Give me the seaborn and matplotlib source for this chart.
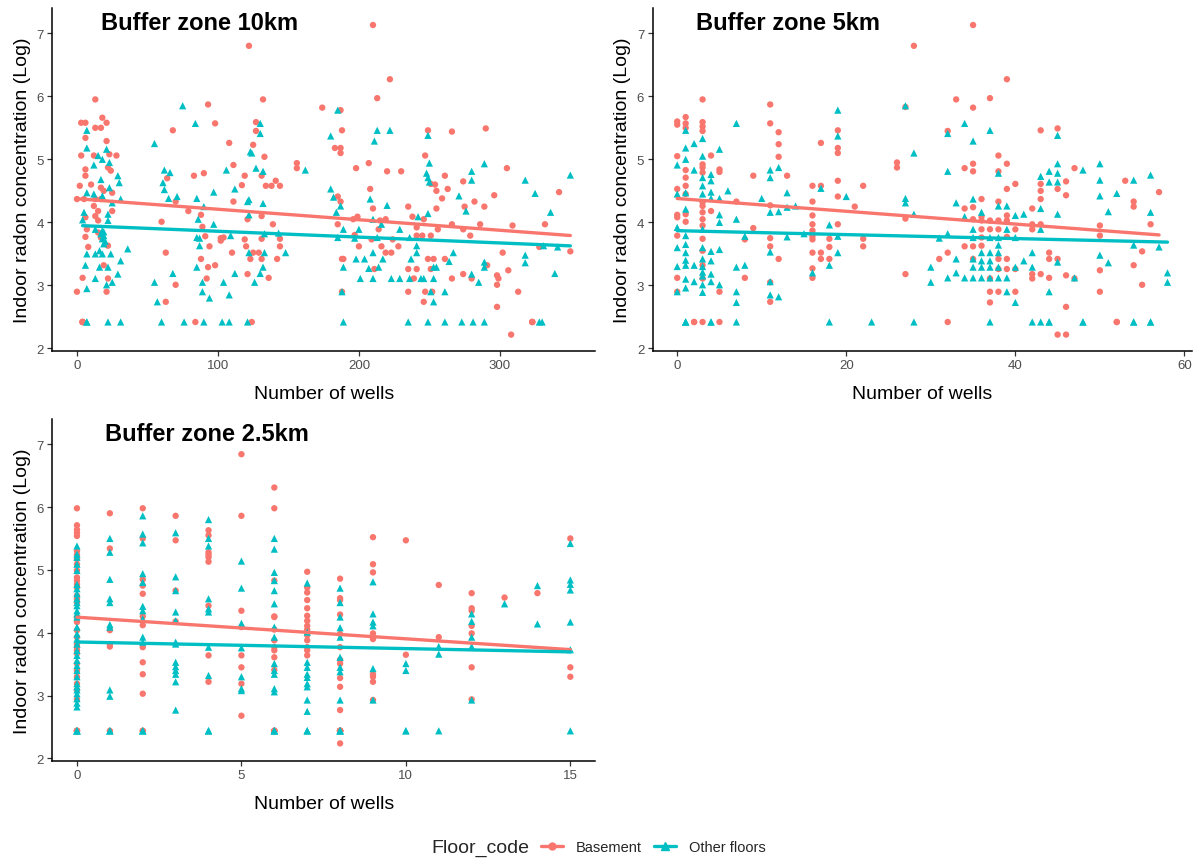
import numpy as np
import pandas as pd
import matplotlib
matplotlib.use("Agg")
import matplotlib.pyplot as plt
import seaborn as sns
from matplotlib.lines import Line2D

# ---------------- data (number of wells, log indoor radon) ----------------
# Buffer zone 10 km
bz10_basement = [
    (13, 5.95), (3, 5.58), (6, 5.58), (18, 5.66), (21, 5.58), (13, 5.5), (17, 5.5), (6, 5.34),
    (21, 5.29), (3, 5.06), (12, 5.06), (23, 5.08), (28, 5.06), (6, 4.84), (22, 4.87), (24, 4.82),
    (6, 4.74), (2, 4.58), (10, 4.6), (17, 4.55), (19, 4.5), (25, 4.47), (0, 4.37), (5, 4.37),
    (13, 4.37), (17, 4.37), (12, 4.26), (15, 4.18), (25, 4.18), (6, 4.08), (13, 4.1), (15, 4.03),
    (7, 3.89), (15, 3.84), (6, 3.77), (17, 3.76), (22, 3.63), (8, 3.61), (19, 3.32), (4, 3.12),
    (22, 3.11), (0, 2.9), (21, 2.9), (4, 2.42), (4, 2.42), (4, 2.42), (4, 2.42),
    (93, 5.87), (98, 5.57), (68, 5.46), (108, 5.26), (111, 4.91), (83, 4.74), (90, 4.78), (64, 4.7),
    (119, 4.74), (117, 4.59), (70, 4.33), (111, 4.33), (79, 4.18), (88, 4.12), (60, 4.01), (89, 3.93),
    (121, 4.05), (131, 4.1), (139, 3.97), (91, 3.78), (102, 3.75), (104, 3.76), (119, 3.73), (94, 3.62),
    (102, 3.71), (144, 3.74), (144, 3.62), (131, 3.74), (120, 3.62), (63, 3.52), (125, 3.52), (129, 3.52),
    (110, 3.52), (88, 3.42), (123, 3.42), (131, 3.42), (142, 3.42), (98, 3.32), (93, 3.29), (70, 3.01),
    (121, 3.18), (136, 3.12), (92, 3.11), (63, 2.74), (84, 2.42), (124, 2.42), (122, 6.8), (156, 4.94),
    (156, 4.86), (132, 5.95), (127, 5.59), (127, 5.45), (125, 5.23), (133, 5.04), (131, 4.74),
    (134, 4.58), (138, 4.58), (141, 4.66), (144, 4.58),
    (210, 7.13), (222, 6.27), (213, 5.97), (174, 5.82), (187, 5.78), (188, 5.46), (183, 5.18), (187, 5.18),
    (187, 5.1), (249, 5.46), (266, 5.44), (290, 5.49), (247, 5.06), (198, 4.86), (207, 4.94), (220, 4.81),
    (230, 4.81), (251, 4.61), (254, 4.6), (255, 4.5), (261, 4.74), (274, 4.65), (305, 4.86), (263, 4.53),
    (259, 4.38), (296, 4.43), (342, 4.48), (185, 4.41), (187, 4.33), (208, 4.53), (210, 4.22), (235, 4.25),
    (282, 4.33), (289, 4.25), (275, 4.25), (238, 4.09), (246, 4.05), (255, 4.22), (185, 3.97), (196, 4.05),
    (199, 4.09), (215, 4.03), (219, 4.05), (214, 3.89), (241, 3.92), (256, 3.89), (266, 3.97), (274, 3.89),
    (286, 3.97), (309, 3.95), (332, 3.97), (197, 3.8), (241, 3.79), (245, 3.79), (251, 3.79), (279, 3.79),
    (224, 3.73), (209, 3.73), (216, 3.62), (200, 3.62), (228, 3.62), (328, 3.61), (350, 3.54), (219, 3.52),
    (223, 3.52), (302, 3.52), (188, 3.42), (189, 3.42), (249, 3.42), (253, 3.42), (261, 3.42), (291, 3.32),
    (211, 3.26), (235, 3.26), (241, 3.26), (251, 3.26), (306, 3.24), (274, 3.18), (298, 3.16), (299, 3.11),
    (239, 3.11), (266, 3.11), (280, 3.11), (298, 3.01), (188, 2.9), (235, 2.9), (247, 2.9), (252, 2.9),
    (313, 2.9), (246, 2.74), (298, 2.66), (323, 2.42), (323, 2.42), (323, 2.42), (308, 2.22),
]
bz10_other = [
    (7, 5.46), (7, 5.18), (21, 5.16), (15, 5.06), (18, 5.0), (12, 4.91), (23, 4.95), (29, 4.74),
    (17, 4.68), (30, 4.63), (23, 4.55), (7, 4.47), (12, 4.45), (18, 4.42), (31, 4.37), (25, 4.31),
    (5, 4.16), (22, 4.13), (4, 4.04), (22, 4.03), (13, 3.89), (18, 3.87), (19, 3.79), (18, 3.74),
    (36, 3.58), (7, 3.5), (13, 3.5), (18, 3.5), (24, 3.5), (31, 3.39), (6, 3.32), (16, 3.29),
    (22, 3.29), (29, 3.18), (13, 3.11), (25, 3.05), (21, 3.01), (7, 2.95), (7, 2.42), (7, 2.42),
    (22, 2.42), (31, 2.42), (17, 3.82), (19, 3.85), (20, 3.7), (16, 3.55), (19, 3.66),
    (55, 5.25), (75, 5.85), (84, 5.57), (62, 4.83), (66, 4.79), (106, 4.83), (61, 4.63), (62, 4.52),
    (97, 4.48), (112, 4.53), (65, 4.38), (71, 4.41), (85, 4.38), (121, 4.33), (122, 4.36), (90, 4.25),
    (86, 4.05), (97, 3.97), (122, 4.12), (85, 3.76), (87, 3.75), (109, 3.79), (87, 3.63), (133, 3.82),
    (143, 3.83), (122, 3.52), (133, 3.52), (148, 3.52), (85, 3.29), (132, 3.29), (68, 3.19), (112, 3.19),
    (130, 3.19), (89, 3.05), (55, 3.05), (104, 3.05), (126, 3.05), (89, 2.9), (108, 2.85), (94, 2.8),
    (57, 2.74), (60, 2.42), (76, 2.42), (90, 2.42), (103, 2.42), (108, 2.42), (121, 2.42),
    (130, 5.57), (130, 5.41), (124, 5.1), (123, 5.12), (127, 4.86), (132, 4.81), (132, 4.3), (162, 4.83),
    (185, 5.78), (180, 5.37), (213, 5.46), (222, 5.46), (211, 5.29), (249, 5.38), (250, 4.94), (248, 4.78),
    (249, 4.71), (250, 4.64), (280, 4.81), (280, 4.67), (289, 4.93), (318, 4.67), (350, 4.75), (271, 4.42),
    (325, 4.46), (180, 4.53), (182, 4.4), (187, 4.26), (208, 4.37), (220, 4.27), (184, 4.16), (276, 4.18),
    (336, 4.16), (242, 4.09), (249, 4.14), (210, 4.05), (200, 3.89), (216, 3.97), (229, 3.89), (189, 3.89),
    (185, 3.76), (197, 3.75), (213, 3.76), (236, 3.76), (241, 3.63), (331, 3.63), (341, 3.61), (241, 3.52),
    (210, 3.52), (267, 3.52), (318, 3.48), (237, 3.42), (217, 3.42), (198, 3.42), (204, 3.42), (264, 3.38),
    (289, 3.37), (318, 3.36), (189, 3.29), (207, 3.27), (214, 3.29), (253, 3.29), (255, 3.29), (289, 3.29),
    (339, 3.19), (280, 3.18), (201, 3.11), (210, 3.11), (223, 3.11), (229, 3.11), (236, 3.11), (244, 3.11),
    (246, 3.11), (253, 3.11), (285, 3.05), (188, 2.9), (251, 2.9), (261, 2.9), (253, 2.74), (189, 2.42),
    (235, 2.42), (249, 2.42), (261, 2.42), (273, 2.42), (281, 2.42), (289, 2.42), (328, 2.42), (330, 2.42),
]

# Buffer zone 5 km  {number of wells: [log radon values]}
bz5_basement = {
    0: [5.6, 5.55, 5.05, 4.53, 4.12, 4.08, 3.79, 3.12, 2.9],
    1: [5.67, 5.57, 5.5, 4.83, 4.71, 4.58, 4.45, 4.13, 4.01],
    2: [2.42, 2.42],
    3: [5.95, 5.59, 5.52, 5.45, 4.92, 4.87, 4.79, 4.32, 4.26, 4.16, 4.05, 3.95, 3.74, 3.55, 3.32, 3.11, 2.42],
    4: [5.06, 4.18], 5: [4.84, 4.8, 2.9, 2.42], 7: [4.33], 8: [3.73, 3.12], 9: [4.74, 3.91],
    11: [5.87, 5.57, 4.27, 3.75, 3.62, 3.05, 2.74], 12: [5.43, 5.24, 5.04, 3.42], 13: [4.74],
    16: [4.58, 4.33, 4.11, 3.97, 3.87, 3.78, 3.73, 3.52, 3.27, 3.12], 17: [5.26, 4.58, 3.52, 3.42],
    18: [3.74, 3.61, 3.42], 19: [5.46, 5.18, 5.1, 4.66, 4.41, 3.97], 21: [4.25], 22: [4.58, 3.74, 3.62],
    26: [4.95, 4.87], 27: [5.83, 4.06, 3.18], 28: [6.8], 31: [3.42], 32: [5.45, 3.52, 2.42], 33: [5.95],
    34: [4.86, 4.22, 3.62], 35: [7.13, 5.82, 4.93, 4.81, 4.24, 4.05, 3.62, 3.42],
    36: [4.37, 4.09, 4.03, 3.89, 3.76, 3.63], 37: [5.97, 4.03, 3.89, 3.11, 2.9, 2.73],
    38: [5.06, 4.81, 4.33, 4.03, 3.89, 3.42, 3.26, 2.9], 39: [6.27, 4.93, 4.53, 4.11, 4.03, 3.77, 3.42, 3.26],
    40: [4.61, 3.89, 3.26, 2.9], 42: [4.22, 3.97, 3.89, 3.18, 3.11], 43: [5.46, 4.61, 4.5, 4.37, 3.97, 3.18],
    44: [3.52, 3.42, 3.12], 45: [5.49, 4.53, 3.42, 2.22], 46: [4.65, 4.43, 3.16, 2.66, 2.22], 47: [4.86, 3.11],
    50: [3.95, 3.79, 3.24, 2.9], 52: [2.42, 2.42], 53: [4.66], 54: [4.33, 4.25, 3.32], 55: [3.54, 3.01],
    56: [3.97], 57: [4.48],
}
bz5_other = {
    0: [4.91, 4.45, 3.92, 2.9, 3.6, 3.3],
    1: [5.46, 5.18, 5.0, 4.47, 4.21, 3.79, 3.52, 3.32, 2.96, 2.42, 2.42, 2.42, 3.65, 3.4, 3.1],
    2: [5.25, 4.83, 3.32, 3.06],
    3: [5.33, 5.05, 4.71, 4.58, 4.45, 3.89, 3.42, 3.21, 3.01, 2.89, 3.6, 3.3, 3.15],
    4: [4.76, 4.66, 4.48, 4.38, 3.54, 3.39, 3.18, 3.06, 2.42, 2.42], 5: [5.16, 4.38, 4.12, 4.0, 3.57, 3.01],
    6: [4.5], 7: [5.57, 4.05, 3.29, 2.9, 2.73, 2.42], 8: [3.78, 3.32], 10: [4.38],
    11: [4.83, 4.71, 4.16, 3.53, 3.06, 2.85], 12: [4.87, 4.17, 2.82], 13: [4.47, 4.24, 3.77], 14: [4.26],
    15: [3.82], 16: [3.2], 17: [4.54], 18: [3.96, 3.32, 2.42], 19: [5.78, 5.37, 3.78, 3.52], 20: [4.41],
    23: [2.42], 27: [5.85, 4.38, 4.31], 28: [5.1, 4.13, 2.42], 30: [3.29, 3.05], 31: [3.75],
    32: [5.41, 4.81, 3.12, 3.82], 33: [4.31, 3.42, 3.2], 34: [5.57, 4.09, 3.12],
    35: [5.29, 4.37, 3.89, 3.76, 3.29, 3.12, 3.42], 36: [4.16, 3.52, 3.39, 3.12, 3.29],
    37: [5.46, 3.76, 3.52, 3.39, 3.29, 2.42, 3.12], 38: [4.78, 4.26, 3.76, 3.64, 3.52, 3.12, 3.29],
    39: [4.26, 3.89, 3.12, 2.9],
    40: [4.11, 3.76, 3.29, 2.73], 41: [4.13, 3.39], 42: [3.52, 3.29, 2.42], 43: [4.73, 4.22, 3.89, 2.42],
    44: [4.81, 4.64, 2.9, 2.42, 2.42], 45: [5.38, 4.93, 4.78, 4.64, 4.13, 3.37], 47: [3.12],
    48: [4.83, 2.42, 2.42], 50: [4.93, 4.67, 4.42, 3.48], 51: [4.17, 3.36], 52: [4.46],
    54: [4.67, 3.64, 2.42, 2.42], 56: [4.75, 4.16, 2.42, 2.42], 57: [3.61], 58: [3.2, 3.05],
}

# Buffer zone 2.5 km
bz25_basement = {
    0: [5.98, 5.71, 5.64, 5.59, 5.54, 5.3, 5.24, 5.17, 5.09, 4.99, 4.88, 4.83, 4.77, 4.72, 4.59, 4.54,
        4.48, 4.25, 4.17, 4.04, 3.93, 3.82, 3.77, 3.72, 3.67, 3.51, 3.4, 3.3, 3.19, 3.09, 2.94,
        2.44, 2.44, 2.44, 2.44],
    1: [5.9, 5.34, 4.04, 3.82, 3.78, 2.44],
    2: [5.98, 5.5, 4.85, 4.75, 4.62, 4.26, 4.12, 3.77, 3.53, 3.34, 3.03, 2.44, 2.44],
    3: [5.86, 5.47, 4.67, 4.18],
    4: [5.63, 5.55, 5.28, 5.24, 5.2, 5.13, 4.43, 3.64, 3.22],
    5: [6.84, 5.86, 4.35, 4.09, 3.64, 3.45, 3.19, 2.68],
    6: [6.31, 5.98, 4.83, 4.26, 4.25, 4.05, 3.88, 3.77, 3.72, 3.61, 3.41, 2.44, 2.44, 2.44, 2.44],
    7: [4.97, 4.72, 4.64, 4.52, 4.39, 4.27, 4.19, 4.11, 4.05, 3.96, 3.88, 3.77, 3.72, 3.64],
    8: [4.86, 4.55, 4.52, 4.29, 3.98, 3.77, 3.57, 3.51, 3.28, 3.14, 2.77, 2.44, 2.44, 2.44, 2.44,
        2.44, 2.44, 2.44, 2.44, 2.24],
    9: [5.52, 5.09, 4.96, 3.99, 3.9, 3.34, 3.3, 3.22, 2.93],
    10: [5.47, 3.65], 11: [4.76, 3.93], 12: [4.63, 4.39, 4.35, 4.11, 3.99, 3.45, 2.94],
    13: [4.56], 14: [4.63], 15: [5.5, 3.45, 3.3],
}
bz25_other = {
    0: [5.38, 5.25, 5.2, 5.09, 4.99, 4.77, 4.7, 4.62, 4.54, 4.48, 4.43, 4.35, 4.3, 4.25, 4.09, 3.98,
        3.9, 3.82, 3.72, 3.64, 3.56, 3.48, 3.4, 3.3, 3.19, 3.14, 3.09, 3.03, 2.95, 2.88, 2.82,
        2.44, 2.44, 2.44, 2.44],
    1: [5.5, 5.28, 4.85, 4.54, 4.48, 4.13, 4.09, 3.09, 2.99, 2.44, 2.44, 2.44],
    2: [5.86, 5.57, 5.43, 4.94, 4.8, 4.42, 4.35, 4.22, 3.93, 3.85, 2.44, 2.44, 2.44],
    3: [5.59, 4.89, 4.67, 4.33, 4.19, 3.85, 3.82, 3.53, 3.46, 3.4, 3.34, 3.22, 2.77],
    4: [5.8, 5.5, 5.38, 4.54, 4.38, 4.33, 3.77, 3.32, 2.44, 2.44, 2.44],
    5: [5.14, 4.71, 4.15, 3.76, 3.3, 3.11, 3.08],
    6: [5.5, 5.33, 4.96, 4.83, 4.67, 4.46, 4.09, 3.93, 3.51, 3.4, 3.34, 3.11, 3.06,
        2.44, 2.44, 2.44, 2.44],
    7: [4.79, 4.01, 3.53, 3.45, 3.34, 3.29, 3.19, 3.14, 2.93, 2.75, 2.44, 2.44, 2.44],
    8: [4.71, 4.48, 4.25, 4.08, 3.93, 3.61, 3.45, 3.38, 2.93, 2.44, 2.44, 2.44, 2.44],
    9: [4.81, 4.3, 4.17, 4.11, 3.43, 2.93],
    10: [3.51, 3.4, 2.44, 2.44], 11: [3.78, 3.66, 2.44], 12: [4.3, 4.18, 3.93, 3.78, 2.93],
    13: [4.46], 14: [4.75, 4.14], 15: [5.42, 4.84, 4.77, 4.68, 4.17, 3.73, 2.44],
}

panel_titles = ["Buffer zone 10km", "Buffer zone 5km", "Buffer zone 2.5km"]
floor_levels = ["Basement", "Other floors"]
x_ticks = [[0, 100, 200, 300], [0, 20, 40, 60], [0, 5, 10, 15]]
y_ticks = [2, 3, 4, 5, 6, 7]


def flatten(cols):
    return [(w, v) for w, vals in cols.items() for v in vals]


def frame(basement, other):
    rows = [(x, y, floor_levels[0]) for x, y in basement] + \
           [(x, y, floor_levels[1]) for x, y in other]
    return pd.DataFrame(rows, columns=["wells", "radon", "Floor_code"])


frames = [
    frame(bz10_basement, bz10_other),
    frame(flatten(bz5_basement), flatten(bz5_other)),
    frame(flatten(bz25_basement), flatten(bz25_other)),
]

# ---------------- styling ----------------
sns.set_theme(style="ticks")
plt.rcParams['font.family'] = ['Liberation Sans', 'DejaVu Sans']

RED = "#F8766D"
CYAN = "#00BFC4"
palette = {floor_levels[0]: RED, floor_levels[1]: CYAN}

W, H = 1201, 862
fig = plt.figure(figsize=(W / 100, H / 100), dpi=100)


def rect(l, t, r, b):
    return [l / W, 1 - b / H, (r - l) / W, (b - t) / H]


axes = [
    fig.add_axes(rect(52.3, 9, 595, 352)),
    fig.add_axes(rect(652.7, 9, 1192, 352)),
    fig.add_axes(rect(52.3, 420, 595, 762)),
]
title_x = [0.272, 0.251, 0.285]

for ax, df, title, xt, tx in zip(axes, frames, panel_titles, x_ticks, title_x):
    sns.scatterplot(data=df, x="wells", y="radon", hue="Floor_code", style="Floor_code",
                    size="Floor_code", sizes={floor_levels[0]: 21, floor_levels[1]: 27},
                    palette=palette,
                    markers={floor_levels[0]: "o", floor_levels[1]: "^"},
                    linewidth=0, ax=ax, legend=False)
    for lvl in floor_levels:
        sns.regplot(data=df[df.Floor_code == lvl], x="wells", y="radon", scatter=False,
                    ci=None, truncate=True, color=palette[lvl],
                    line_kws={"lw": 2.4}, ax=ax)
    xmin, xmax = df.wells.min(), df.wells.max()
    pad = 0.05 * (xmax - xmin)
    ax.set_xlim(xmin - pad, xmax + pad)
    ax.set_ylim(1.96, 7.40)
    ax.set_xticks(xt)
    ax.set_yticks(y_ticks)
    ax.set_xlabel("Number of wells", fontsize=14, color="black", labelpad=10)
    ax.set_ylabel("Indoor radon concentration (Log)", fontsize=14, color="black", labelpad=4)
    for s in ["top", "right"]:
        ax.spines[s].set_visible(False)
    for s in ["left", "bottom"]:
        ax.spines[s].set_color("black")
        ax.spines[s].set_linewidth(1.1)
    ax.tick_params(direction="out", length=3.6, width=0.9, color="#333333",
                   labelsize=9.5, labelcolor="#4D4D4D", pad=2.5)
    ax.text(tx, 0.958, title, transform=ax.transAxes, ha="center", va="center",
            fontsize=17, fontweight="bold", color="black")

# legend at the bottom
fig.text(480 / W, 1 - 848 / H, "Floor_code", ha="center", va="center", fontsize=14)
handles = [
    Line2D([], [], color=RED, marker="o", markersize=5, lw=2.4),
    Line2D([], [], color=CYAN, marker="^", markersize=5.5, lw=2.4),
]
fig.legend(handles, floor_levels, loc="center left", bbox_to_anchor=(541 / W, 1 - 848 / H),
           ncol=2, frameon=False, fontsize=10.5, handlelength=1.5, handletextpad=0.9,
           columnspacing=0.8, borderpad=0, borderaxespad=0)

fig.savefig("out.png", dpi=100)
